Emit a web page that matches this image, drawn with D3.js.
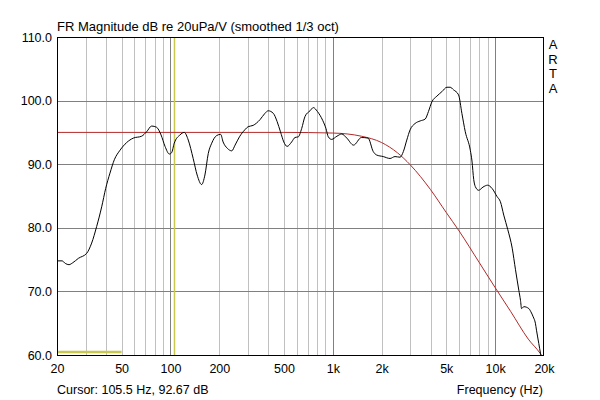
<!DOCTYPE html>
<html>
<head>
<meta charset="utf-8">
<script src="https://cdn.jsdelivr.net/npm/d3@7"></script>
<style>
  body { margin: 0; background: #fff; }
  svg text { font-family: "Liberation Sans", Arial, sans-serif; fill: #000; }
</style>
</head>
<body>
<div id="chart"></div>
<script>
// measured response (black)
const measFreq = [20, 21.5, 22.5, 23.7, 25, 27.1, 30.5, 32.7, 35.1, 37.7, 39.9, 42.4, 45.1, 48.9, 53.7, 59, 66.4, 71.3, 76.6, 82.2, 87.5, 92.6, 98.4, 101.6, 105.5, 114.4, 121.6,
  128.7, 138, 146, 155.6, 163, 171, 179.5, 192.4, 203.8, 211, 224, 238.6, 250, 266, 287, 301, 323, 356, 382, 400, 430, 454, 476, 499, 523, 558, 585, 613, 643, 674, 724, 759, 803, 866, 908, 938, 984,
  1060, 1136, 1220, 1342, 1502, 1650, 1774, 1860, 2046, 2252, 2416, 2596, 2722, 2856, 2993, 3212, 3452, 3708, 3886, 4076, 4376, 4698, 5046, 5286, 5540, 5952, 6240, 6548, 7032, 7200, 7380, 7544, 7914, 8416, 8992, 9568,
  10280, 10776, 11300, 11970, 12740, 13350, 13990, 14330, 14550, 15020, 16130, 16600, 17160, 17700, 17980, 18580, 19020, 19300];
const measDb = [74.8, 74.8, 74.4, 74.2, 74.5, 75.2, 76.0, 77.6, 80.2, 83.3, 86.2, 88.6, 90.7, 92.2, 93.4, 94.1, 94.4, 95.1, 96.0, 95.8, 94.6, 92.8, 91.6, 91.8, 93.3, 94.6, 95.0,
  93.8, 90.9, 88.3, 86.8, 88.3, 91.7, 93.3, 94.5, 94.7, 93.5, 92.5, 92.1, 93.0, 94.3, 95.4, 95.9, 96.1, 97.0, 98.0, 98.4, 98.0, 96.7, 95.1, 93.5, 92.8, 93.5, 94.2, 94.3, 95.6, 97.5, 98.4, 98.9, 98.3, 96.9, 95.6, 94.3, 93.9,
  94.4, 94.75, 94.1, 93.0, 94.2, 94.1, 92.0, 91.45, 91.2, 90.9, 91.2, 91.1, 92.0, 93.8, 95.4, 96.4, 96.8, 97.1, 98.3, 99.8, 100.7, 101.4, 102.1, 102.1, 101.7, 100.9, 98.0, 95.1, 92.2, 90.5, 87.6, 86.5, 85.9, 86.4, 86.7, 86.2,
  84.9, 84.1, 82.0, 79.7, 76.8, 73.4, 70.2, 68.6, 67.3, 67.6, 67.3, 66.8, 66.0, 65.0, 63.9, 61.8, 60.3, 59.5];

// target curve (red)
const targetFreq = [20, 200, 500, 1000, 1500, 2000, 2500, 3000, 4000, 5000, 6000, 8000, 10000, 12500, 16000, 19000, 20000];
const targetDb = [95, 95, 95, 94.9, 94.4, 93.4, 91.8, 89.9, 86.0, 82.4, 79.5, 74.5, 70.6, 66.8, 62.5, 60.2, 59.3];

const xTicks = [20, 50, 100, 200, 500, 1000, 2000, 5000, 10000, 20000];
const xTickLabels = ["20", "50", "100", "200", "500", "1k", "2k", "5k", "10k", "20k"];
const yTicks = [60, 70, 80, 90, 100, 110];
const gridMinor = [30, 40, 50, 60, 70, 80, 90, 200, 300, 400, 500, 600, 700, 800, 900, 2000, 3000, 4000, 5000, 6000, 7000, 8000, 9000];
const gridMajor = [100, 1000, 10000];
const cursorFreq = 105.5;
const markerRange = [20, 50];

const W = 600, H = 400;
const pl = 57, pr = 544, pt = 37, pb = 355;

const x = d3.scaleLog().domain([20, 20000]).range([pl, pr]);
const y = d3.scaleLinear().domain([60, 110]).range([pb, pt]);

const svg = d3.select("#chart").append("svg")
  .attr("width", W)
  .attr("height", H);

svg.append("defs").append("clipPath").attr("id", "plot")
  .append("rect")
  .attr("x", pl).attr("y", pt)
  .attr("width", pr - pl).attr("height", pb - pt);

// grid
svg.selectAll(".minor").data(gridMinor).enter().append("line")
  .attr("x1", d => Math.round(x(d)) + 0.5).attr("x2", d => Math.round(x(d)) + 0.5)
  .attr("y1", pt).attr("y2", pb)
  .attr("stroke", "#c0c0c0").attr("stroke-width", 1);

svg.selectAll(".major").data(gridMajor).enter().append("line")
  .attr("x1", d => Math.round(x(d)) + 0.5).attr("x2", d => Math.round(x(d)) + 0.5)
  .attr("y1", pt).attr("y2", pb)
  .attr("stroke", "#808080").attr("stroke-width", 1);

svg.selectAll(".hgrid").data(yTicks.slice(1, -1)).enter().append("line")
  .attr("x1", pl).attr("x2", pr)
  .attr("y1", d => Math.round(y(d)) + 0.5).attr("y2", d => Math.round(y(d)) + 0.5)
  .attr("stroke", "#808080").attr("stroke-width", 1);

// cursor + marker (yellow)
svg.append("line")
  .attr("x1", Math.round(x(cursorFreq)) + 0.5).attr("x2", Math.round(x(cursorFreq)) + 0.5)
  .attr("y1", pt).attr("y2", pb)
  .attr("stroke", "#c8c850").attr("stroke-width", 1.5);

svg.append("line")
  .attr("x1", x(markerRange[0])).attr("x2", x(markerRange[1]))
  .attr("y1", pb - 3).attr("y2", pb - 3)
  .attr("stroke", "#c8c850").attr("stroke-width", 2.5);

// curves
const line = d3.line()
  .x(d => x(d[0]))
  .y(d => y(d[1]))
  .curve(d3.curveMonotoneX);

svg.append("path")
  .datum(targetFreq.map((f, i) => [f, targetDb[i]]))
  .attr("clip-path", "url(#plot)")
  .attr("fill", "none")
  .attr("stroke", "#b22a2a")
  .attr("stroke-width", 1)
  .attr("d", line);

svg.append("path")
  .datum(measFreq.map((f, i) => [f, measDb[i]]))
  .attr("clip-path", "url(#plot)")
  .attr("fill", "none")
  .attr("stroke", "#000")
  .attr("stroke-width", 1)
  .attr("d", line);

// frame
svg.append("rect")
  .attr("x", pl + 0.5).attr("y", pt + 0.5)
  .attr("width", pr - pl - 1).attr("height", pb - pt)
  .attr("fill", "none").attr("stroke", "#000");

// axes labels
const xAxis = d3.axisBottom(x)
  .tickValues(xTicks)
  .tickFormat((d, i) => xTickLabels[i])
  .tickSize(0).tickPadding(9);
const gx = svg.append("g")
  .attr("transform", "translate(0," + pb + ")")
  .call(xAxis);
gx.select(".domain").remove();
gx.selectAll("text").style("font-size", "12.5px").attr("fill", "#000");

const yAxis = d3.axisLeft(y)
  .tickValues(yTicks)
  .tickFormat(d3.format(".1f"))
  .tickSize(0).tickPadding(5);
const gy = svg.append("g")
  .attr("transform", "translate(" + pl + ",0)")
  .call(yAxis);
gy.select(".domain").remove();
gy.selectAll("text").style("font-size", "12.5px").attr("fill", "#000");

svg.append("text")
  .attr("x", pl).attr("y", 31)
  .style("font-size", "13px")
  .text("FR Magnitude dB re 20uPa/V (smoothed 1/3 oct)");

svg.append("text")
  .attr("x", pl).attr("y", 394)
  .style("font-size", "12.5px")
  .text("Cursor: 105.5 Hz, 92.67 dB");

svg.append("text")
  .attr("x", pr - 1).attr("y", 394)
  .attr("text-anchor", "end")
  .style("font-size", "12.5px")
  .text("Frequency (Hz)");

svg.selectAll(".arta").data(["A", "R", "T", "A"]).enter().append("text")
  .attr("x", 553).attr("y", (d, i) => 49 + i * 14.5)
  .attr("text-anchor", "middle")
  .style("font-size", "13px")
  .text(d => d);
</script>
</body>
</html>
